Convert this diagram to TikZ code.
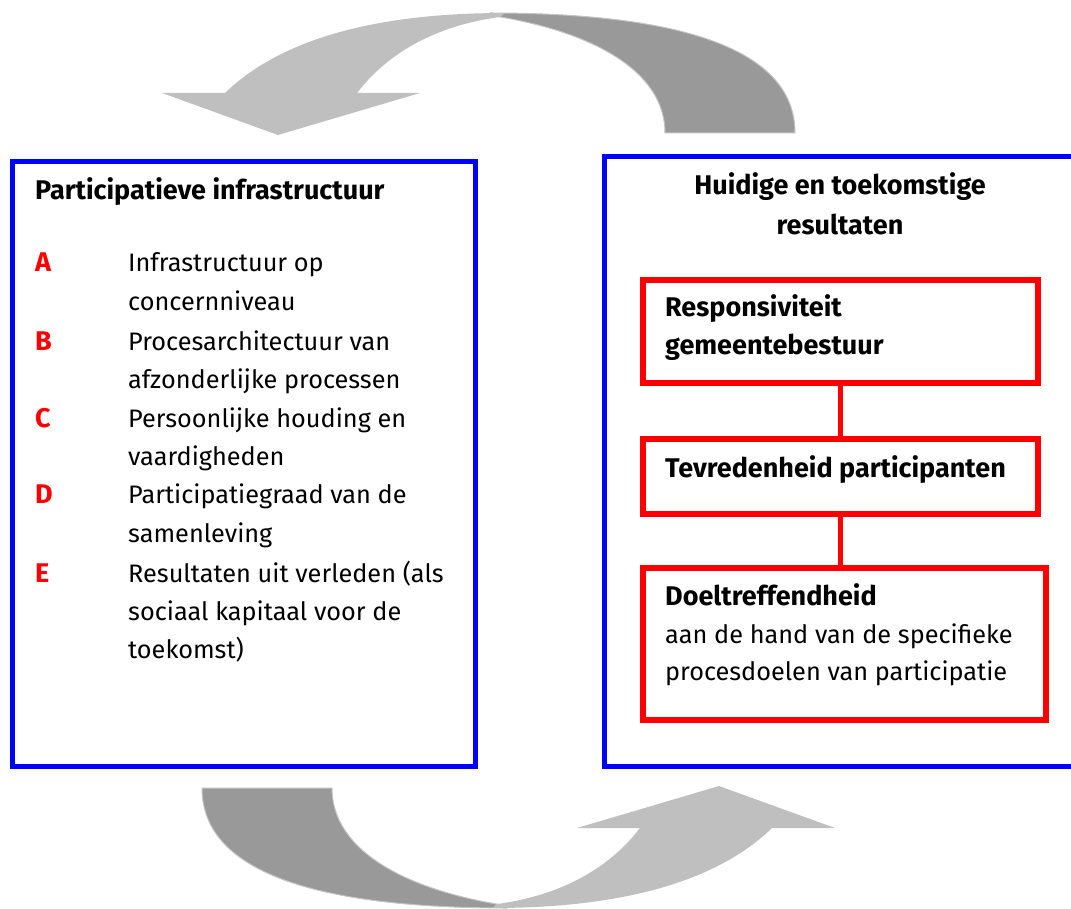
\documentclass[tikz,border=0pt]{standalone}
\usepackage{fontspec}
\setmainfont{Fira Sans}
\definecolor{lightg}{HTML}{BFBFBF}
\definecolor{darkg}{HTML}{999999}
\definecolor{edgeg}{HTML}{C4C4C4}
\begin{document}
\begin{tikzpicture}[x=1pt,y=-1pt,
  bluebox/.style={draw=blue, line width=5pt, inner sep=0pt, outer sep=0pt},
  redbox/.style={draw=red, line width=6pt, inner sep=0pt, outer sep=0pt},
  redline/.style={draw=red, line width=5pt},
  txt/.style={anchor=base west, inner sep=0pt, font=\fontsize{25.3}{30}\selectfont},
  btxt/.style={anchor=base west, inner sep=0pt, font=\fontsize{27}{30}\selectfont\bfseries},
  ctxt/.style={anchor=base, inner sep=0pt, font=\fontsize{27}{30}\selectfont\bfseries},
  lbl/.style={btxt, text=red},
  lightband/.style={fill=lightg},
  darkband/.style={fill=darkg, draw=edgeg, line width=1pt}
]
\useasboundingbox (0,0) rectangle (1071,909);

% curved arrows (top, and the same rotated for the bottom)
\foreach \ang in {0,180}{
  \begin{scope}[rotate around={\ang:(498.5,460.5)}]
    \path[darkband] (665,133) .. controls (665,70) and (590,30) .. (488,15) -- (490,13)
       .. controls (670,13) and (795,45) .. (795,133) -- cycle;
    \path[lightband] (505,13) .. controls (400,13) and (290,30) .. (225,93) -- (162,93)
       -- (278,135) -- (420,93) -- (357,93) .. controls (390,50) and (440,25) .. (500,17) -- cycle;
  \end{scope}
}

% boxes
\node[bluebox, minimum width=463pt, minimum height=604pt] (left) at (243.5,464) {};
\node[bluebox, minimum width=469pt, minimum height=609pt] (right) at (838.5,461.5) {};
\node[redbox, minimum width=395pt, minimum height=103pt] (r1) at (840.5,331.5) {};
\node[redbox, minimum width=395pt, minimum height=75pt] (r2) at (840.5,476.5) {};
\node[redbox, minimum width=403pt, minimum height=152pt] (r3) at (844.5,644) {};
\draw[redline] (r1.south) -- (r2.north);
\draw[redline] (r2.south) -- (r2.south |- r3.north);

% left texts
\node[btxt] (ltitle) at (35,200) {Participatieve infrastructuur};
\node[lbl] (la) at (35,272) {A};
\node[lbl] (lb) at (35,350) {B};
\node[lbl] (lc) at (35,427) {C};
\node[lbl] (ld) at (35,503) {D};
\node[lbl] (le) at (35,582) {E};
\node[txt] (t1) at (128,272) {Infrastructuur op};
\node[txt] (t2) at (128,311) {concernniveau};
\node[txt] (t3) at (128,350) {Procesarchitectuur van};
\node[txt] (t4) at (128,388) {afzonderlijke processen};
\node[txt] (t5) at (128,427) {Persoonlijke houding en};
\node[txt] (t6) at (128,465) {vaardigheden};
\node[txt] (t7) at (128,503) {Participatiegraad van de};
\node[txt] (t8) at (128,542) {samenleving};
\node[txt] (t9) at (128,582) {Resultaten uit verleden (als};
\node[txt] (t10) at (128,620) {sociaal kapitaal voor de};
\node[txt] (t11) at (128,658) {toekomst)};

% right texts
\node[ctxt] (rt1) at (840,195) {Huidige en toekomstige};
\node[ctxt] (rt2) at (840,235) {resultaten};
\node[btxt] (s1) at (665,317) {Responsiviteit};
\node[btxt] (s2) at (665,355) {gemeentebestuur};
\node[btxt] (s3) at (665,477) {Tevredenheid participanten};
\node[btxt] (s4) at (665,605) {Doeltreffendheid};
\node[txt] (s5) at (665,643) {aan de hand van de specifieke};
\node[txt] (s6) at (665,680) {procesdoelen van participatie};
\end{tikzpicture}
\end{document}
